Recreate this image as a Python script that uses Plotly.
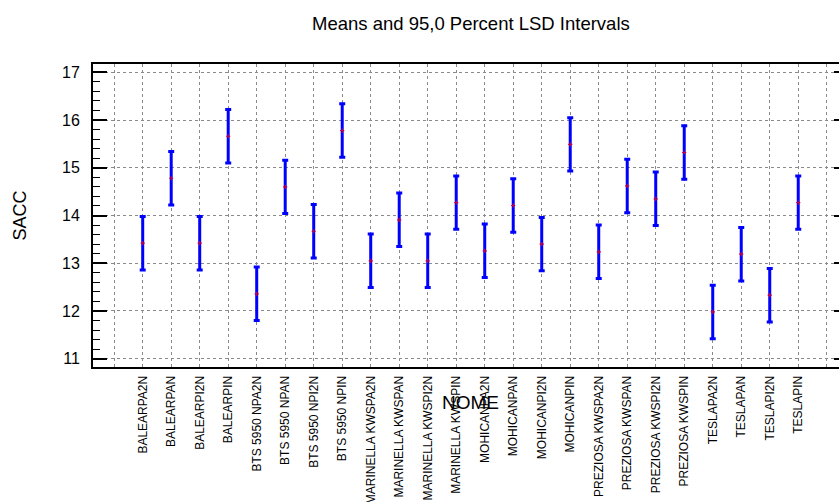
import plotly.graph_objects as go

# Group labels (NOME) and their means of SACC with the 95% LSD half-widths
categories = [
    "BALEARPA2N", "BALEARPAN", "BALEARPI2N", "BALEARPIN",
    "BTS 5950 NPA2N", "BTS 5950 NPAN", "BTS 5950 NPI2N", "BTS 5950 NPIN",
    "MARINELLA KWSPA2N", "MARINELLA KWSPAN", "MARINELLA KWSPI2N", "MARINELLA KWSPIN",
    "MOHICANPA2N", "MOHICANPAN", "MOHICANPI2N", "MOHICANPIN",
    "PREZIOSA KWSPA2N", "PREZIOSA KWSPAN", "PREZIOSA KWSPI2N", "PREZIOSA KWSPIN",
    "TESLAPA2N", "TESLAPAN", "TESLAPI2N", "TESLAPIN",
]
means = [
    13.42, 14.78, 13.42, 15.66,
    12.36, 14.60, 13.67, 15.78,
    13.05, 13.91, 13.05, 14.27,
    13.26, 14.21, 13.40, 15.49,
    13.24, 14.62, 14.35, 15.32,
    11.98, 13.19, 12.33, 14.27,
]
lsd_half = [0.56] * len(means)

y_ticks = [11, 12, 13, 14, 15, 16, 17]

positions = list(range(len(categories)))
grid_positions = list(range(-1, len(categories) + 1))
grid_text = [""] + categories + [""]

FONT = "Liberation Sans, Arial, sans-serif"

fig = go.Figure()

fig.add_trace(go.Scatter(
    x=positions,
    y=means,
    mode="markers",
    marker=dict(symbol="cross-thin", size=3, color="#c00040",
                line=dict(width=1.2, color="#c00040")),
    error_y=dict(type="data", array=lsd_half, visible=True,
                 color="#0000ff", thickness=3, width=3),
    showlegend=False,
    hoverinfo="x+y",
))

# companion trace on the right-hand axis so its inner tick marks are drawn
fig.add_trace(go.Scatter(
    x=positions, y=means, yaxis="y2", mode="markers",
    marker=dict(opacity=0), showlegend=False, hoverinfo="skip",
))

y_range = [10.826, 17.174]

fig.update_layout(
    width=839,
    height=502,
    margin=dict(l=93, r=0, t=64, b=135),
    paper_bgcolor="white",
    plot_bgcolor="white",
    font=dict(family=FONT, color="black"),
    xaxis=dict(
        range=[-1.744, 24.43],
        tickmode="array",
        tickvals=grid_positions,
        ticktext=grid_text,
        tickangle=-90,
        tickfont=dict(size=12, family=FONT, color="black"),
        ticks="",
        ticklabelstandoff=2,
        showgrid=True,
        gridcolor="#8a8a8a",
        griddash="dot",
        gridwidth=1,
        zeroline=False,
        showline=True,
        linecolor="black",
        linewidth=2,
        mirror=True,
        automargin=False,
    ),
    yaxis=dict(
        range=y_range,
        tickmode="array",
        tickvals=y_ticks,
        tickfont=dict(size=16, family=FONT, color="black"),
        ticks="inside",
        ticklen=14,
        tickwidth=2,
        tickcolor="black",
        ticklabelstandoff=8,
        minor=dict(dtick=0.2, ticks="inside", ticklen=7, tickwidth=1,
                   tickcolor="black", showgrid=False),
        showgrid=True,
        gridcolor="#8a8a8a",
        griddash="dot",
        gridwidth=1,
        zeroline=False,
        showline=True,
        linecolor="black",
        linewidth=2,
        mirror=False,
        automargin=False,
    ),
    yaxis2=dict(
        range=y_range,
        overlaying="y",
        side="right",
        tickmode="array",
        tickvals=y_ticks,
        showticklabels=False,
        ticks="inside",
        ticklen=5,
        tickwidth=2,
        tickcolor="black",
        showgrid=False,
        zeroline=False,
        showline=False,
    ),
    annotations=[
        dict(text="Means and 95,0 Percent LSD Intervals", xref="paper", yref="paper",
             x=0.5067, y=1.135, showarrow=False, xanchor="center", yanchor="middle",
             font=dict(size=18.5, family=FONT, color="black")),
        dict(text="NOME", xref="paper", yref="paper",
             x=0.5067, y=-0.1188, showarrow=False, xanchor="center", yanchor="middle",
             font=dict(size=19, family=FONT, color="black")),
        dict(text="SACC", xref="paper", yref="paper", textangle=-90,
             x=-0.0979, y=0.5, showarrow=False, xanchor="center", yanchor="middle",
             font=dict(size=18, family=FONT, color="black")),
    ],
)

fig.write_html("out.html")
